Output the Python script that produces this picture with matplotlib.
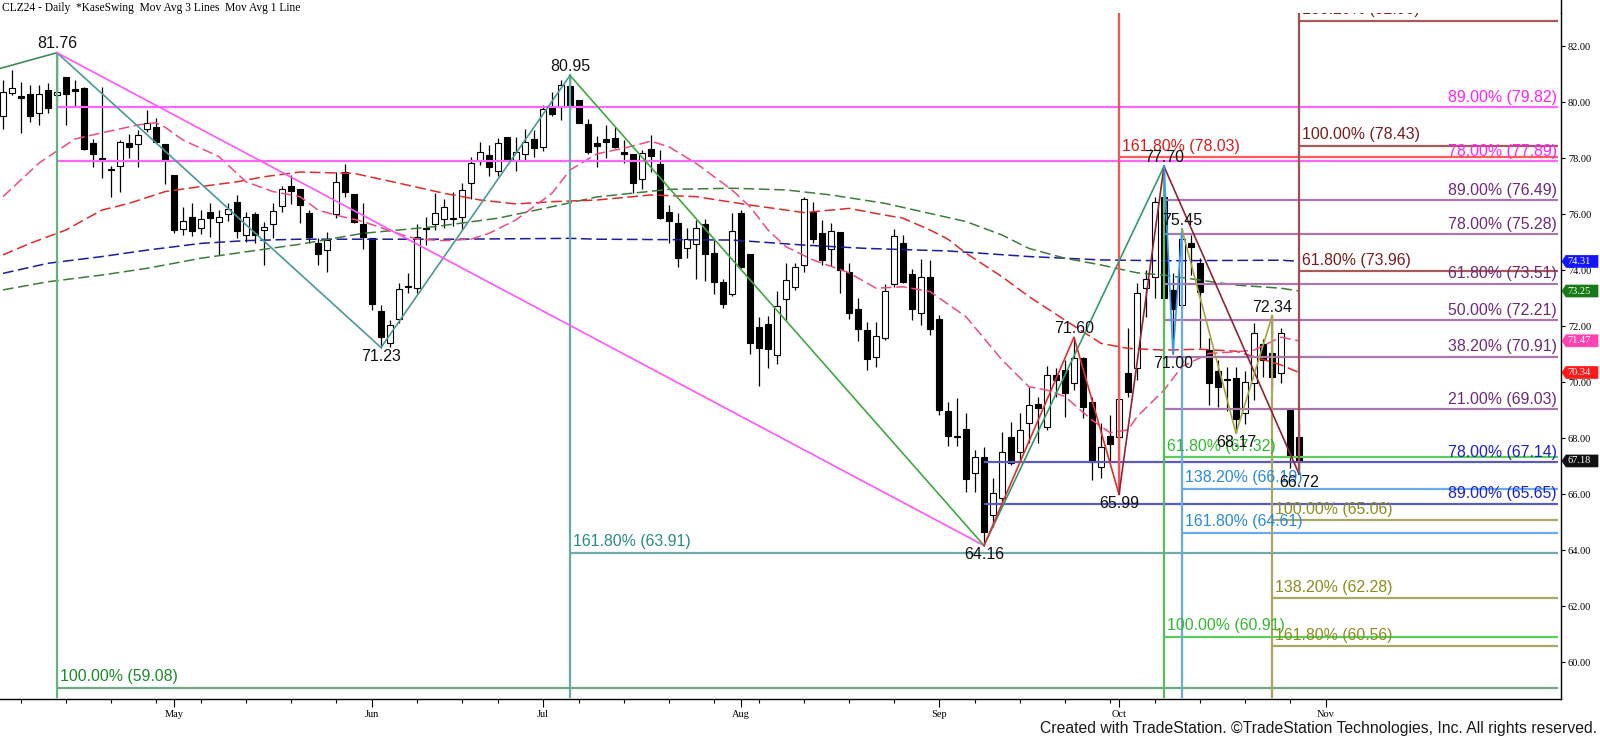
import numpy as np
import pandas as pd
import matplotlib
matplotlib.use('Agg')
from matplotlib import pyplot as plt
from matplotlib.lines import Line2D
from matplotlib.patches import Polygon
from matplotlib import transforms

# trading calendar (a few future days kept for the axis)
holidays = ['2024-05-27', '2024-06-19', '2024-07-04', '2024-09-02']
dates = pd.bdate_range('2024-04-04', '2024-11-01', freq='C', holidays=holidays)

# daily OHLC, CLZ24 (Apr 4 .. Oct 29)
opens = [79.50, 80.31, 80.20, 80.29, 79.60, 80.43, 80.24, 80.88, 80.46, 80.50,
         78.52, 78.00, 77.58, 77.73, 78.52, 78.49, 79.03, 79.12, 78.50, 77.39,
         75.45, 75.88, 75.49, 76.06, 75.71, 75.99, 76.42, 75.25, 75.99, 75.43,
         75.64, 76.29, 77.00, 76.88, 76.05, 74.95, 74.71, 76.00, 77.49, 76.71,
         75.64, 75.13, 72.54, 71.40, 72.24, 73.38, 73.35, 75.47, 75.64, 75.83,
         75.82, 75.88, 77.12, 77.89, 78.10, 77.55, 78.74, 77.93, 78.14, 78.67,
         78.40, 79.83, 79.81, 80.57, 80.07, 79.21, 78.52, 78.68, 78.70, 78.23,
         78.14, 77.24, 78.31, 77.79, 76.06, 75.67, 74.78, 74.93, 75.64, 74.60,
         73.57, 73.14, 76.02, 74.57, 71.98, 72.06, 70.96, 72.95, 73.40, 74.18,
         76.08, 75.31, 74.74, 75.37, 73.94, 72.60, 71.86, 70.88, 71.56, 73.50,
         74.95, 73.85, 72.45, 73.76, 72.24, 68.98, 68.07, 68.31, 66.76, 67.31,
         65.25, 65.85, 68.05, 67.51, 68.53, 69.21, 68.38, 70.25, 70.43, 69.95,
         70.85, 69.30, 66.95, 68.07, 68.05, 70.31, 70.49, 73.35, 73.74, 76.62,
         73.29, 72.75, 74.98, 74.24, 71.14, 70.40, 70.12, 70.15, 68.90, 69.95,
         71.34, 71.02, 70.31, 69.00, 68.03]
highs = [80.79, 81.14, 80.73, 80.61, 80.61, 80.69, 81.76, 80.90, 80.79, 80.55,
         78.67, 80.55, 77.71, 78.64, 78.86, 79.00, 79.71, 79.42, 78.50, 77.39,
         76.26, 76.40, 76.14, 76.38, 76.14, 76.38, 76.68, 76.08, 76.08, 75.73,
         76.38, 77.00, 77.39, 76.88, 76.14, 75.13, 75.37, 77.51, 77.77, 76.71,
         76.40, 75.13, 72.74, 72.21, 73.52, 73.90, 75.64, 75.88, 76.74, 76.52,
         76.80, 77.12, 78.05, 78.58, 78.46, 78.70, 78.76, 78.76, 79.02, 79.00,
         79.89, 80.37, 80.79, 80.95, 80.07, 79.38, 78.79, 79.18, 79.12, 78.64,
         78.14, 78.29, 78.82, 78.29, 76.32, 76.02, 75.49, 75.79, 75.81, 75.07,
         73.67, 76.05, 76.14, 74.57, 72.31, 72.36, 73.26, 74.24, 74.24, 76.60,
         76.44, 75.79, 75.69, 75.37, 74.26, 72.99, 72.15, 72.15, 73.50, 75.45,
         75.25, 74.02, 74.38, 74.36, 72.39, 69.30, 69.42, 68.88, 67.57, 67.69,
         66.56, 68.22, 68.58, 68.88, 69.81, 69.48, 70.57, 70.49, 70.79, 71.60,
         70.90, 69.48, 68.52, 68.82, 71.26, 71.92, 73.52, 74.00, 76.62, 77.70,
         73.88, 75.45, 75.25, 74.42, 71.56, 70.79, 70.52, 70.55, 70.38, 72.11,
         71.53, 72.34, 71.92, 69.00, 68.55]
lows = [79.04, 80.25, 78.90, 79.30, 79.18, 79.60, 80.05, 79.18, 79.83, 78.30,
        77.67, 77.27, 76.60, 76.80, 77.99, 77.67, 78.94, 78.52, 77.07, 75.31,
        75.25, 75.21, 75.29, 75.19, 74.54, 75.76, 75.13, 75.01, 74.95, 74.18,
        75.13, 76.08, 76.36, 75.67, 74.95, 74.18, 73.94, 75.85, 76.62, 75.67,
        74.74, 72.57, 71.23, 71.26, 72.10, 73.17, 73.17, 74.90, 75.43, 75.49,
        75.57, 75.43, 76.52, 77.75, 77.36, 77.36, 77.95, 77.55, 77.90, 78.02,
        78.26, 79.50, 79.36, 79.71, 79.24, 78.14, 77.69, 77.99, 78.35, 77.83,
        76.74, 76.88, 77.51, 75.81, 74.95, 74.12, 74.42, 73.67, 73.62, 73.14,
        72.63, 73.07, 74.06, 71.00, 69.86, 70.49, 70.64, 72.21, 73.29, 73.94,
        74.95, 74.18, 74.14, 73.17, 72.24, 71.48, 70.43, 70.52, 71.50, 73.40,
        73.52, 72.21, 72.04, 71.68, 68.82, 67.71, 67.71, 66.08, 66.08, 64.16,
        64.83, 65.67, 67.04, 67.16, 67.81, 67.81, 68.29, 69.48, 68.76, 69.71,
        68.70, 66.50, 66.56, 67.15, 65.99, 69.48, 70.07, 72.33, 72.99, 72.10,
        71.00, 72.60, 73.82, 71.20, 69.18, 69.12, 68.95, 68.17, 68.50, 69.35,
        70.19, 69.78, 69.95, 66.92, 66.72]
closes = [80.37, 80.49, 80.15, 79.51, 80.29, 79.80, 80.35, 80.28, 80.38, 78.31,
          78.13, 77.96, 77.56, 78.56, 78.40, 78.81, 79.26, 78.56, 77.93, 75.43,
          75.74, 75.40, 75.83, 75.85, 75.90, 76.17, 75.40, 75.90, 75.25, 75.55,
          76.12, 76.90, 76.83, 76.32, 75.17, 74.57, 75.07, 77.13, 76.78, 75.70,
          75.17, 72.79, 71.60, 72.02, 73.31, 73.42, 75.17, 75.51, 76.02, 76.24,
          75.85, 76.86, 77.83, 78.23, 77.69, 78.55, 77.98, 78.23, 78.58, 78.35,
          79.74, 79.57, 80.61, 79.81, 79.26, 78.23, 78.44, 78.58, 78.38, 78.14,
          77.10, 78.17, 78.07, 75.85, 75.76, 74.42, 75.10, 75.49, 74.57, 73.56,
          72.79, 75.40, 74.12, 71.40, 71.20, 71.17, 72.71, 73.64, 74.10, 76.52,
          75.10, 74.36, 75.40, 74.00, 72.48, 71.88, 70.81, 71.65, 73.25, 75.21,
          73.58, 72.60, 73.74, 71.88, 69.00, 68.07, 68.04, 66.53, 67.31, 64.65,
          66.05, 67.51, 67.10, 68.29, 69.18, 69.06, 70.25, 70.07, 69.60, 70.85,
          69.12, 67.15, 67.67, 67.79, 69.38, 69.65, 73.17, 73.67, 76.44, 72.99,
          72.60, 75.10, 74.83, 73.23, 69.98, 69.81, 70.08, 68.67, 70.01, 71.74,
          70.79, 70.17, 71.76, 67.33, 67.18]

# moving averages, sampled off the chart
ma_pink_dates = ['2024-04-04', '2024-04-10', '2024-04-16', '2024-04-19', '2024-04-25', '2024-04-29',
                 '2024-04-30', '2024-05-02', '2024-05-08', '2024-05-13', '2024-05-16', '2024-05-21',
                 '2024-05-23', '2024-05-28', '2024-05-31', '2024-06-06', '2024-06-10', '2024-06-13',
                 '2024-06-18', '2024-06-21', '2024-06-26', '2024-07-02', '2024-07-05', '2024-07-10',
                 '2024-07-15', '2024-07-18', '2024-07-22', '2024-07-25', '2024-07-31', '2024-08-02',
                 '2024-08-06', '2024-08-08', '2024-08-13', '2024-08-19', '2024-08-22', '2024-08-27',
                 '2024-08-30', '2024-09-06', '2024-09-12', '2024-09-17', '2024-09-19', '2024-09-23',
                 '2024-09-26', '2024-09-30', '2024-10-02', '2024-10-03', '2024-10-08', '2024-10-10',
                 '2024-10-15', '2024-10-18', '2024-10-22', '2024-10-25', '2024-10-29']
ma_pink = [76.62, 77.82, 78.68, 78.90, 79.18, 79.26, 79.10, 78.64, 78.05, 77.15, 76.80, 76.62,
           76.14, 75.96, 75.73, 75.29, 75.10, 75.05, 75.10, 75.31, 75.79, 76.74, 77.57, 78.15,
           78.35, 78.60, 78.40, 77.81, 76.86, 76.26, 75.43, 74.83, 74.36, 73.90, 73.35, 73.40,
           73.23, 72.33, 70.79, 69.83, 69.71, 69.48, 68.64, 68.19, 68.29, 68.76, 69.71, 70.55,
           71.02, 71.08, 71.14, 71.60, 71.47]

ma_red_dates = ['2024-04-04', '2024-04-09', '2024-04-15', '2024-04-17', '2024-04-19', '2024-04-24',
                '2024-04-30', '2024-05-06', '2024-05-10', '2024-05-15', '2024-05-21', '2024-05-30',
                '2024-06-06', '2024-06-13', '2024-06-20', '2024-06-26', '2024-07-02', '2024-07-10',
                '2024-07-18', '2024-07-25', '2024-08-02', '2024-08-12', '2024-08-19', '2024-08-23',
                '2024-08-27', '2024-08-30', '2024-09-04', '2024-09-06', '2024-09-12', '2024-09-17',
                '2024-09-23', '2024-09-27', '2024-10-02', '2024-10-08', '2024-10-14', '2024-10-18',
                '2024-10-22', '2024-10-25', '2024-10-29']
ma_red = [74.54, 74.95, 75.43, 75.79, 76.14, 76.38, 76.80, 76.98, 77.15, 77.33, 77.50, 77.45,
          77.10, 76.74, 76.50, 76.36, 76.44, 76.50, 76.68, 76.62, 76.32, 76.05, 76.20, 75.96,
          75.85, 75.43, 75.10, 74.60, 73.76, 73.05, 72.21, 71.38, 71.20, 71.14, 71.17, 71.10,
          70.90, 70.61, 70.34]

ma_green_dates = ['2024-04-04', '2024-04-11', '2024-04-19', '2024-04-26', '2024-05-06', '2024-05-13',
                  '2024-05-21', '2024-05-31', '2024-06-12', '2024-06-24', '2024-07-02', '2024-07-10',
                  '2024-07-22', '2024-07-31', '2024-08-08', '2024-08-15', '2024-08-23', '2024-08-30',
                  '2024-09-06', '2024-09-12', '2024-09-17', '2024-09-23', '2024-09-27', '2024-10-03',
                  '2024-10-08', '2024-10-14', '2024-10-18', '2024-10-25', '2024-10-29']
ma_green = [73.29, 73.58, 73.82, 74.06, 74.42, 74.65, 74.92, 75.31, 75.55, 75.85, 76.26, 76.61,
            76.88, 76.92, 76.86, 76.68, 76.38, 76.02, 75.73, 75.25, 74.77, 74.42, 74.18, 73.90,
            73.82, 73.64, 73.46, 73.35, 73.25]

ma_blue_dates = ['2024-04-04', '2024-04-11', '2024-04-19', '2024-04-26', '2024-05-06', '2024-05-13',
                 '2024-05-21', '2024-06-14', '2024-07-05', '2024-07-10', '2024-07-31', '2024-08-12',
                 '2024-08-21', '2024-09-04', '2024-09-17', '2024-09-27', '2024-10-08', '2024-10-25',
                 '2024-10-29']
ma_blue = [73.88, 74.24, 74.48, 74.71, 74.95, 75.05, 75.10, 75.10, 75.13, 75.10, 75.07, 74.89,
           74.77, 74.68, 74.48, 74.36, 74.33, 74.35, 74.31]

# swing points (date, price)
swing_prior = (-10, 80.34)  # off the left edge, bars before the first date
swings = {
    'a': ('2024-04-12', 81.76), 'b': ('2024-06-04', 71.23), 'c': ('2024-07-05', 80.95),
    'd': ('2024-09-10', 64.16), 'e': ('2024-09-24', 71.60), 'f': ('2024-10-01', 65.99),
    'g': ('2024-10-08', 77.70), 'h': ('2024-10-09', 71.00), 'i': ('2024-10-10', 75.45),
    'j': ('2024-10-18', 68.17), 'k': ('2024-10-24', 72.34), 'l': ('2024-10-29', 66.72),
}
swing_above = ['a', 'c', 'e', 'g', 'i', 'k']

# fib levels: start swing, levels, percentages, line colour, text colour, label side
fib_groups = [
    ('a', [79.82, 77.89], ['89.00%', '78.00%'], '#ff66ff', '#ff22ff', 'right'),
    ('a', [59.08], ['100.00%'], '#6fa882', '#1a8a2a', 'left'),
    ('c', [63.91], ['161.80%'], '#6fabab', '#2a8a8a', 'left'),
    ('f', [78.03], ['161.80%'], '#ff5a5a', '#e01818', 'left'),
    ('d', [67.14, 65.65], ['78.00%', '89.00%'], '#5a5ac0', '#2020cc', 'right'),
    ('g', [76.49, 75.28, 73.51, 72.21, 70.91, 69.03],
     ['89.00%', '78.00%', '61.80%', '50.00%', '38.20%', '21.00%'], '#a878a8', '#6e2a78', 'right'),
    ('g', [67.32, 60.91], ['61.80%', '100.00%'], '#5ccc5c', '#2fba2f', 'left'),
    ('i', [66.19, 64.61], ['138.20%', '161.80%'], '#6aaaee', '#2a8ae0', 'left'),
    ('k', [65.06, 62.28, 60.56], ['100.00%', '138.20%', '161.80%'], '#aaa866', '#8e8c1c', 'left'),
    ('l', [82.90, 78.43, 73.96], ['138.20%', '100.00%', '61.80%'], '#a85a5a', '#7a1c1c', 'left'),
]

# ---- layout in pixels of the 1600x739 picture
W, H = 1600, 739
px_top, px_bot, px_right = 13, 699, 1561
y_per_px = 1 / 28.0
ylim = (82 - (px_bot - 46) * y_per_px, 82 + (46 - px_top) * y_per_px)
xlim = (-1 / 3, (px_right - 3) / 9)

plt.rcParams['font.family'] = ['Liberation Sans', 'DejaVu Sans']

fig = plt.figure(figsize=(W / 100, H / 100), dpi=100)
fig.patch.set_facecolor('white')
ax = fig.add_axes([0, 1 - px_bot / H, px_right / W, (px_bot - px_top) / H])
ax.set_xlim(*xlim)
ax.set_ylim(*ylim)


def bar_of(d):
    return int(dates.get_loc(pd.Timestamp(d)))


o = np.array(opens); h = np.array(highs); l = np.array(lows); c = np.array(closes)
x = np.arange(len(c))
up = c >= o
lo = np.minimum(o, c)
bh = np.maximum(np.abs(c - o), 0.04)

# candles
ax.vlines(x, l, h, color='black', lw=0.9, zorder=3)
ax.bar(x[up], bh[up], bottom=lo[up], width=0.66, color='white', edgecolor='black', lw=0.8, zorder=4)
ax.bar(x[~up], bh[~up], bottom=lo[~up], width=0.66, color='black', edgecolor='black', lw=0.8, zorder=4)

# moving averages
dash = (0, (7, 3))
ma_specs = [(ma_blue_dates, ma_blue, '#1c1c9c', '#1414ff'),
            (ma_green_dates, ma_green, '#3c7d3c', '#177a17'),
            (ma_red_dates, ma_red, '#e02a2a', '#ff1a1a'),
            (ma_pink_dates, ma_pink, '#ee4a88', '#ff42b0')]
for ds, vals, col, _ in ma_specs:
    ax.plot([bar_of(d) for d in ds], vals, color=col, lw=1.1, ls=dash, zorder=5)

# fib level lines and labels
for start, levels, pcts, lcol, tcol, side in fib_groups:
    x0 = bar_of(swings[start][0])
    for lev, pct in zip(levels, pcts):
        ax.plot([x0, xlim[1] - 0.3], [lev, lev], color=lcol, lw=1.6, zorder=6, solid_capstyle='butt')
        txt = f'{pct} ({lev:.2f})'
        if side == 'left':
            ax.text(x0 + 0.35, lev + 11 * y_per_px, txt, color=tcol, fontsize=11.4,
                    ha='left', va='center', zorder=8, clip_on=True)
        else:
            ax.text(xlim[1] - 0.45, lev + 10 * y_per_px, txt, color=tcol, fontsize=11.4,
                    ha='right', va='center', zorder=8, clip_on=True)

# vertical projection lines
top_line = 82 + (46 - 14) * y_per_px
verticals = [('a', '#66b27a', 'down'), ('c', '#6aa8a8', 'down'), ('f', '#ff5050', 'up'),
             ('g', '#5cbb5c', 'down'), ('i', '#66aaee', 'down'), ('k', '#a8a660', 'down'),
             ('l', '#a05050', 'up')]
for key, col, way in verticals:
    d, p = swings[key]
    xb = bar_of(d)
    if way == 'down':
        ax.plot([xb, xb], [p, ylim[0] + 2 * y_per_px], color=col, lw=1.6, zorder=6)
    else:
        ax.plot([xb, xb], [top_line, p], color=col, lw=1.6, zorder=6)

# swing lines
paths = [(['prior', 'a'], '#3d8c5c'), (['a', 'b', 'c'], '#4a9999'), (['a', 'd'], '#ff55ff'),
         (['c', 'd'], '#40a840'), (['d', 'g'], '#2f9c6a'), (['d', 'e', 'f'], '#dd3030'),
         (['f', 'g', 'l'], '#8b2535'), (['g', 'h', 'i'], '#3399ff'), (['i', 'j', 'k'], '#a5a540')]
for keys, col in paths:
    xs, ys = [], []
    for k in keys:
        if k == 'prior':
            xs.append(swing_prior[0]); ys.append(swing_prior[1])
        else:
            xs.append(bar_of(swings[k][0])); ys.append(swings[k][1])
    ax.plot(xs, ys, color=col, lw=1.2, zorder=7)

# swing labels
for k, (d, p) in swings.items():
    off = 6.5 if k in swing_above else -6.5
    ax.annotate(f'{p:.2f}', (bar_of(d), p), xytext=(0, off), textcoords='offset points',
                ha='center', va='center', fontsize=11.5, color='#111111', zorder=9)

# right axis
ax.yaxis.tick_right()
ax.set_yticks(np.arange(60, 83, 2))
ax.set_yticklabels([f'{v:.2f}' for v in np.arange(60, 83, 2)], family='Liberation Serif', fontsize=7.5)
ax.tick_params(axis='y', length=3, width=0.8, pad=2, colors='black')

# last values tags on the price scale
tag_tr = transforms.blended_transform_factory(transforms.IdentityTransform(), ax.transData)
half = 6 * y_per_px
tags = [(vals[-1], box) for _, vals, _, box in ma_specs] + [(closes[-1], '#111111')]
for v, box in tags:
    poly = Polygon([[1562, v], [1566, v + half], [1598, v + half], [1598, v - half], [1566, v - half]],
                   closed=True, fc=box, ec=box, lw=0.5, transform=tag_tr, clip_on=False, zorder=10)
    fig.add_artist(poly)
    fig.add_artist(matplotlib.text.Text(1567, v, f'{v:.2f}', transform=tag_tr, color='white',
                                        fontsize=7.5, family='Liberation Serif', ha='left',
                                        va='center', zorder=11))

# time axis: month ticks and weekly ticks
months = [i for i in range(1, len(dates)) if dates[i].month != dates[i - 1].month]
weeks = [i for i in range(1, len(dates))
         if dates[i].isocalendar()[1] != dates[i - 1].isocalendar()[1] and i not in months]
ax.set_xticks(months)
ax.set_xticklabels([dates[i].strftime('%b') for i in months], family='Liberation Serif', fontsize=7.5)
ax.set_xticks(weeks, minor=True)
ax.tick_params(axis='x', which='major', length=6, width=0.8, pad=2)
ax.tick_params(axis='x', which='minor', length=3, width=0.8)

for s in ['left', 'top']:
    ax.spines[s].set_visible(False)
for s in ['right', 'bottom']:
    ax.spines[s].set_linewidth(1.0)
fig.add_artist(Line2D([px_right / W, px_right / W], [1 - px_top / H, 1], color='black', lw=1.0))

fig.text(2 / W, 1 - 8 / H, 'CLZ24 - Daily  *KaseSwing  Mov Avg 3 Lines  Mov Avg 1 Line',
         family='Liberation Serif', fontsize=8.3, va='center', ha='left')
fig.text(1597 / W, 1 - 729 / H,
         'Created with TradeStation. \u00a9TradeStation Technologies, Inc. All rights reserved.',
         fontsize=11.3, va='center', ha='right', color='#1a1a1a')

fig.savefig('out.png', dpi=100, facecolor='white')
